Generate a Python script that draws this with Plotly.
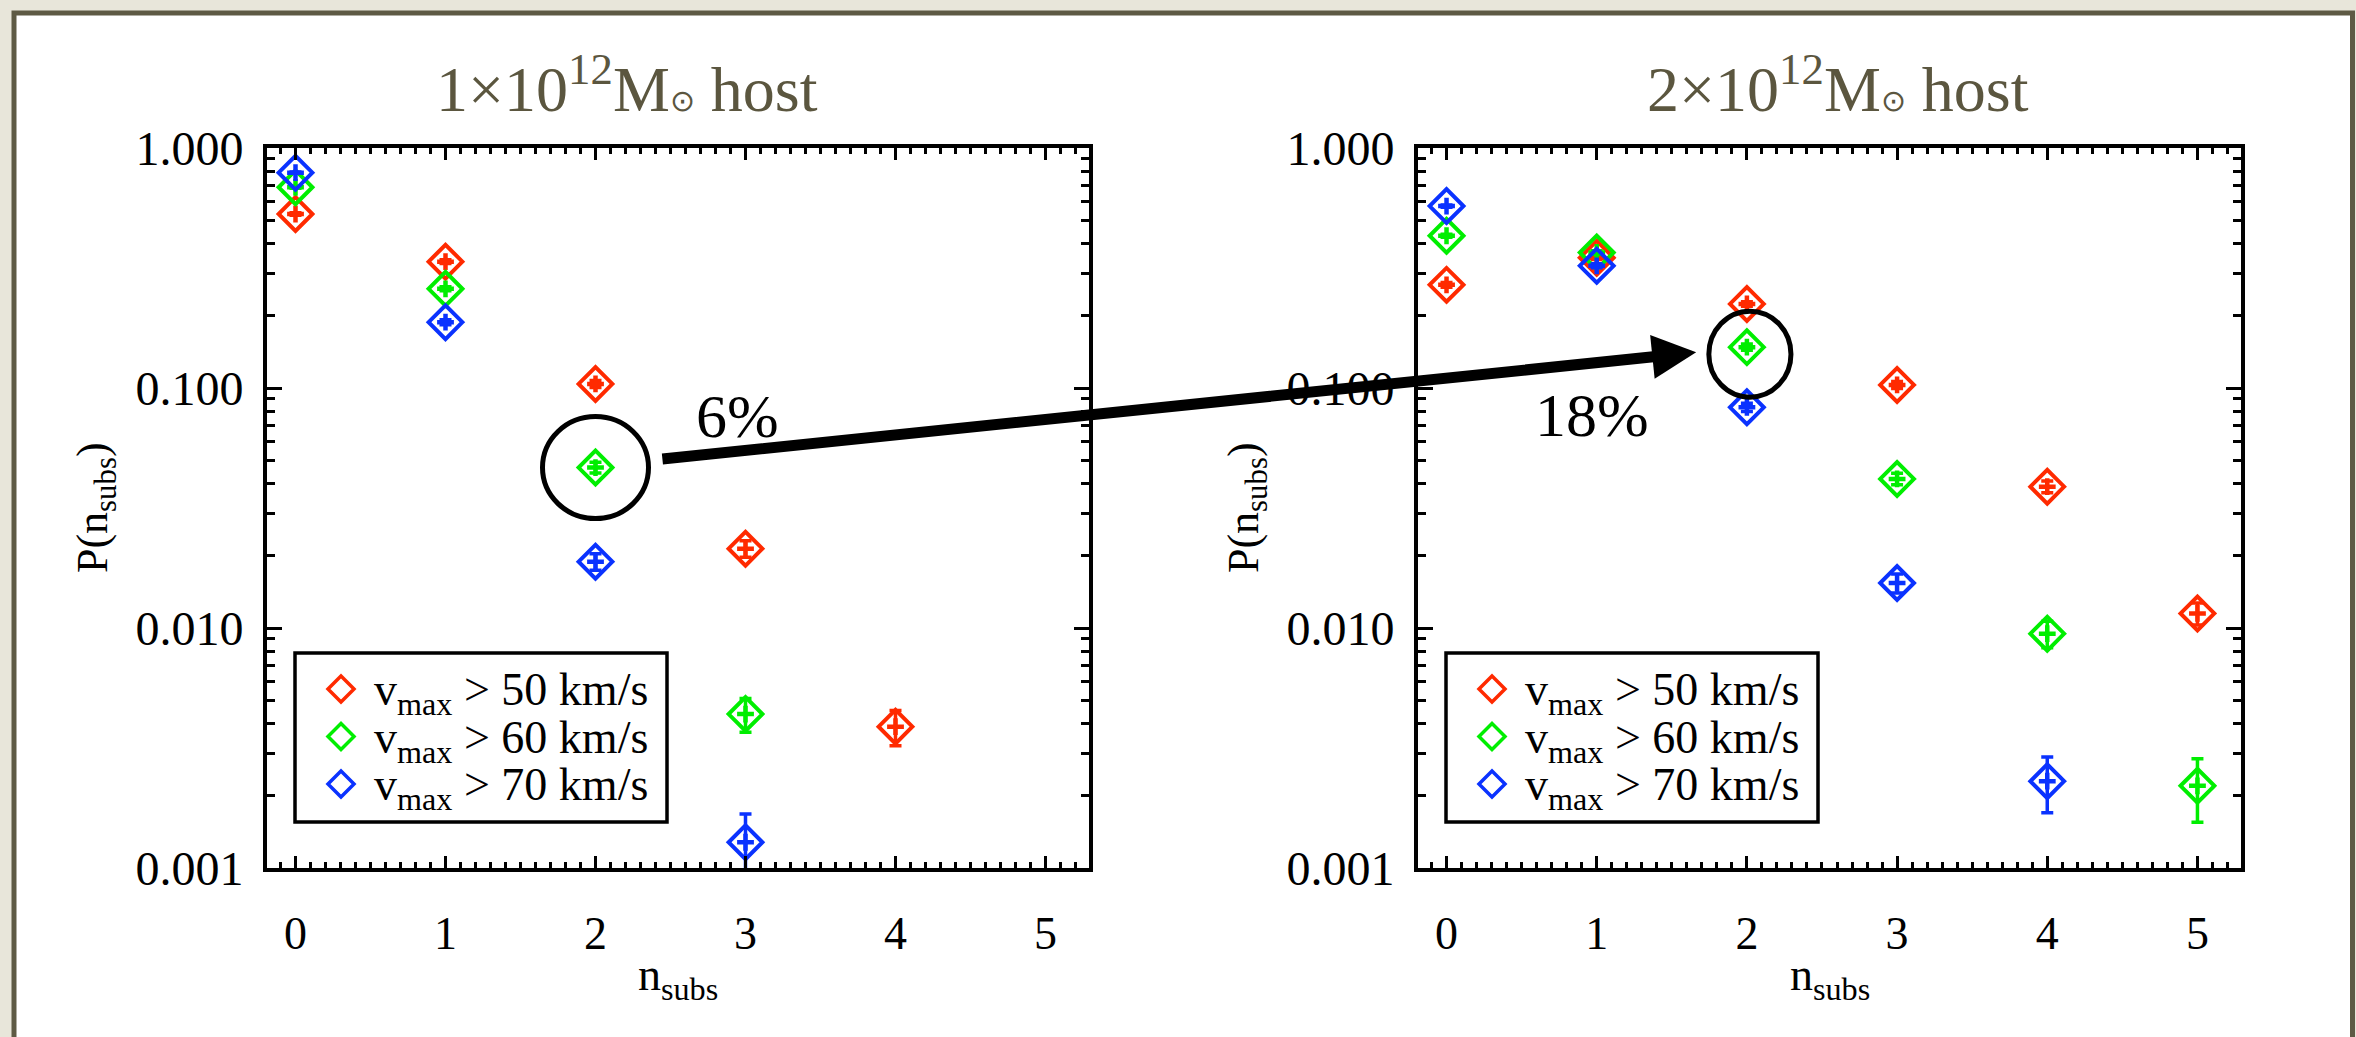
import math
import plotly.graph_objects as go

# ---------------- data ----------------
n_subs_ticks = [0, 1, 2, 3, 4, 5]

series_labels = ["v<sub>max</sub> &gt; 50 km/s",
                 "v<sub>max</sub> &gt; 60 km/s",
                 "v<sub>max</sub> &gt; 70 km/s"]
series_colors = ["#ff2a00", "#00ee00", "#0a32ff"]

host_titles = ["1×10<sup>12</sup>M<span style='font-size:30px'>⊙</span> host",
               "2×10<sup>12</sup>M<span style='font-size:30px'>⊙</span> host"]

# 1e12 Msun host
n_50_1e12 = [0, 1, 2, 3, 4]
p_50_1e12 = [0.531, 0.336, 0.104, 0.0214, 0.00388]
e_50_1e12 = [0.006, 0.006, 0.0035, 0.0017, 0.00065]

n_60_1e12 = [0, 1, 2, 3]
p_60_1e12 = [0.686, 0.259, 0.0466, 0.00438]
e_60_1e12 = [0.006, 0.005, 0.0024, 0.0007]

n_70_1e12 = [0, 1, 2, 3]
p_70_1e12 = [0.789, 0.188, 0.0189, 0.00128]
e_70_1e12 = [0.005, 0.0045, 0.0015, 0.0004]

# 2e12 Msun host
n_50_2e12 = [0, 1, 2, 3, 4, 5]
p_50_2e12 = [0.269, 0.349, 0.224, 0.103, 0.0388, 0.0115]
e_50_2e12 = [0.006, 0.006, 0.005, 0.0035, 0.0022, 0.0012]

n_60_2e12 = [0, 1, 2, 3, 4, 5]
p_60_2e12 = [0.431, 0.367, 0.148, 0.0418, 0.00947, 0.0022]
e_60_2e12 = [0.006, 0.006, 0.0045, 0.0023, 0.0012, 0.00065]

n_70_2e12 = [0, 1, 2, 3, 4]
p_70_2e12 = [0.573, 0.323, 0.0831, 0.0154, 0.0023]
e_70_2e12 = [0.006, 0.006, 0.0032, 0.0014, 0.0006]

highlight_text = ["6%", "18%"]

# ---------------- layout helpers ----------------
W, H = 2356, 1037
FONT = "Liberation Serif, Times New Roman, serif"
INK = "black"
TITLE_INK = "#5b563f"

X_RANGE = [-0.19, 5.29]
LOG_RANGE = [-3, 0]


def fx(px):
    return px / W


def fy(py):
    return 1 - py / H


# pixel boxes of the two panels
panels = [dict(left=267, right=1089), dict(left=1418, right=2241)]
AX_TOP, AX_BOTTOM = 148, 868
UNIT_PX = (panels[0]["right"] - panels[0]["left"]) / (X_RANGE[1] - X_RANGE[0])
DECADE_PX = (AX_BOTTOM - AX_TOP) / (LOG_RANGE[1] - LOG_RANGE[0])

panel_series = [
    [(n_50_1e12, p_50_1e12, e_50_1e12), (n_60_1e12, p_60_1e12, e_60_1e12), (n_70_1e12, p_70_1e12, e_70_1e12)],
    [(n_50_2e12, p_50_2e12, e_50_2e12), (n_60_2e12, p_60_2e12, e_60_2e12), (n_70_2e12, p_70_2e12, e_70_2e12)],
]

fig = go.Figure()

for k, series in enumerate(panel_series):
    xa = "x" if k == 0 else "x2"
    ya = "y" if k == 0 else "y2"
    for (n, p, e), col in zip(series, series_colors):
        fig.add_trace(go.Scatter(
            x=n, y=p, mode="markers", xaxis=xa, yaxis=ya, showlegend=False,
            marker=dict(symbol="diamond-open", size=26, color=col, line=dict(width=4, color=col)),
            error_y=dict(type="data", array=e, visible=True, color=col, thickness=3.5, width=6),
        ))
        fig.add_trace(go.Scatter(
            x=n, y=p, mode="markers", xaxis=xa, yaxis=ya, showlegend=False,
            marker=dict(symbol="cross-thin", size=12, color=col, line=dict(width=4.5, color=col)),
        ))

xaxis_style = dict(
    range=X_RANGE, tickmode="array", tickvals=n_subs_ticks, automargin=False,
    showline=True, linecolor=INK, linewidth=4, mirror="ticks",
    ticks="inside", ticklen=12, tickwidth=3, tickcolor=INK,
    minor=dict(ticks="inside", dtick=0.1, tick0=0, ticklen=6, tickwidth=2.5, tickcolor=INK, showgrid=False),
    showgrid=False, zeroline=False, ticklabelstandoff=22,
    tickfont=dict(family=FONT, size=46, color=INK),
)
yaxis_style = dict(
    type="log", range=LOG_RANGE, dtick=1, tick0=0, tickformat=".3f", automargin=False,
    showline=True, linecolor=INK, linewidth=4, mirror="ticks",
    ticks="inside", ticklen=15, tickwidth=3, tickcolor=INK,
    minor=dict(ticks="inside", dtick="D1", ticklen=8, tickwidth=3, tickcolor=INK, showgrid=False),
    showgrid=False, zeroline=False, ticklabelstandoff=10,
    tickfont=dict(family=FONT, size=48, color=INK),
)

fig.update_layout(
    width=W, height=H, margin=dict(l=0, r=0, t=0, b=0, pad=0, autoexpand=False),
    paper_bgcolor="#e8e6da", plot_bgcolor="white", showlegend=False,
    xaxis=dict(domain=[fx(panels[0]["left"]), fx(panels[0]["right"])], anchor="y", **xaxis_style),
    yaxis=dict(domain=[fy(AX_BOTTOM), fy(AX_TOP)], anchor="x", **yaxis_style),
    xaxis2=dict(domain=[fx(panels[1]["left"]), fx(panels[1]["right"])], anchor="y2", **xaxis_style),
    yaxis2=dict(domain=[fy(AX_BOTTOM), fy(AX_TOP)], anchor="x2", **yaxis_style),
)

shapes = []
# white slide frame with dark border
shapes.append(dict(type="rect", xref="paper", yref="paper", layer="below",
                   x0=fx(14), x1=fx(2352.5), y0=-0.05, y1=fy(13),
                   fillcolor="white", line=dict(color="#5e5a44", width=5)))

annotations = []
title_cx = [627, 1838]
for k, pan in enumerate(panels):
    cx = (pan["left"] + pan["right"]) / 2
    # panel title
    annotations.append(dict(text=host_titles[k], xref="paper", yref="paper", x=fx(title_cx[k]), y=fy(85),
                            xanchor="center", yanchor="middle", showarrow=False,
                            font=dict(family=FONT, size=64, color=TITLE_INK)))
    # axis titles
    annotations.append(dict(text="P(n<sub>subs</sub>)", xref="paper", yref="paper", x=fx(pan["left"] - 172),
                            y=fy((AX_TOP + AX_BOTTOM) / 2), textangle=-90, xanchor="center", yanchor="middle",
                            showarrow=False, font=dict(family=FONT, size=44, color=INK)))
    annotations.append(dict(text="n<sub>subs</sub>", xref="paper", yref="paper", x=fx(cx), y=fy(978),
                            xanchor="center", yanchor="middle", showarrow=False,
                            font=dict(family=FONT, size=46, color=INK)))
    # legend box and entries
    lx0 = pan["left"] + 28
    shapes.append(dict(type="rect", xref="paper", yref="paper", x0=fx(lx0), x1=fx(lx0 + 372),
                       y0=fy(822), y1=fy(653), line=dict(color=INK, width=3.5), fillcolor="white"))
    for r, (lab, col) in enumerate(zip(series_labels, series_colors)):
        ry = 689 + r * 47.5
        shapes.append(dict(type="path", xref="paper", yref="paper", xsizemode="pixel", ysizemode="pixel",
                           xanchor=fx(lx0 + 46), yanchor=fy(ry), path="M0,13 L13,0 L0,-13 L-13,0 Z",
                           line=dict(color=col, width=3.5)))
        annotations.append(dict(text=lab, xref="paper", yref="paper", x=fx(lx0 + 77), y=fy(ry + 4),
                                xanchor="left", yanchor="middle", showarrow=False,
                                font=dict(family=FONT, size=46, color=INK)))


def ring(xref, yref, n, p, left, right, up, down):
    """Ellipse around point (n, p); extents given in screen pixels."""
    return dict(type="circle", xref=xref, yref=yref,
                x0=n - left / UNIT_PX, x1=n + right / UNIT_PX,
                y0=p * 10 ** (-down / DECADE_PX), y1=p * 10 ** (up / DECADE_PX),
                line=dict(color=INK, width=5))


# rings around the highlighted v_max > 60 km/s, n_subs = 2 points
shapes.append(ring("x", "y", n_60_1e12[2], p_60_1e12[2], 53, 53, 51, 51))
shapes.append(ring("x2", "y2", n_60_2e12[2], p_60_2e12[2], 38, 44, 36, 50))

# arrow from the 1e12 ring to the 2e12 ring
annotations.append(dict(x=n_60_2e12[2], y=math.log10(p_60_2e12[2]), xref="x2", yref="y2",
                        ax=-1086, ay=112, axref="pixel", ayref="pixel", text="",
                        showarrow=True, arrowhead=2, arrowsize=0.8, arrowwidth=11,
                        arrowcolor=INK, standoff=51, font=dict(size=1)))

annotations.append(dict(text=highlight_text[0], xref="paper", yref="paper", x=fx(737), y=fy(416),
                        xanchor="center", yanchor="middle", showarrow=False,
                        font=dict(family=FONT, size=62, color=INK)))
annotations.append(dict(text=highlight_text[1], xref="paper", yref="paper", x=fx(1592), y=fy(415),
                        xanchor="center", yanchor="middle", showarrow=False,
                        font=dict(family=FONT, size=62, color=INK)))

fig.update_layout(shapes=shapes, annotations=annotations)
fig.write_html("out.html")
